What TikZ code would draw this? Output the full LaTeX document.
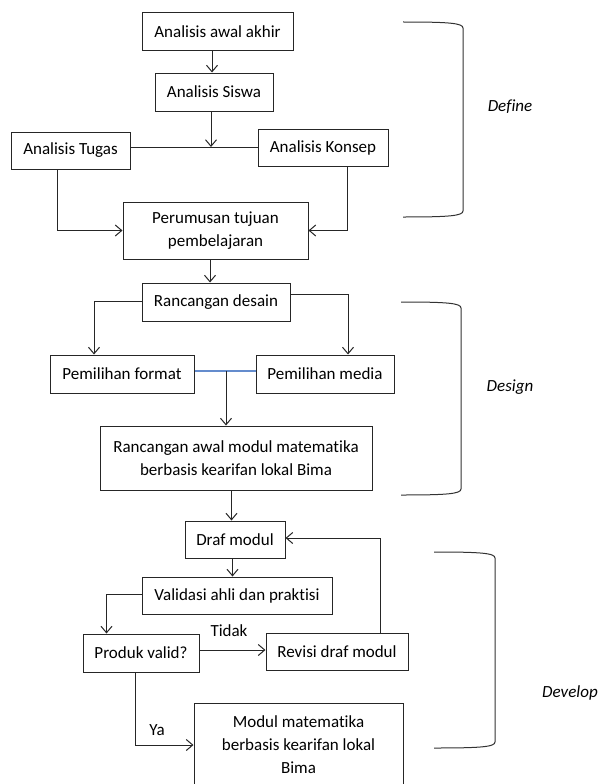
\documentclass[tikz,border=0pt]{standalone}
\usepackage{fontspec}
\setmainfont{Carlito}[Ligatures={NoCommon}]
\usetikzlibrary{arrows.meta}
\definecolor{bl}{RGB}{100,140,205}
\begin{document}
\begin{tikzpicture}[x=1pt,y=-1pt,
  stepbox/.style={draw=black!85, line width=1pt, inner sep=0pt, align=center, font=\fontsize{17}{23}\selectfont},
  ln/.style={draw=black!85, line width=1pt},
  arr/.style={ln, -{Straight Barb[length=6.5pt,width=11pt]}},
  bline/.style={draw=bl, line width=1.1pt},
  lbl/.style={inner sep=0pt, font=\fontsize{17}{23}\selectfont},
  phase/.style={inner sep=0pt, font=\fontsize{17}{23}\selectfont\itshape},
  brk/.style={draw=black!80, line width=1pt}]
\useasboundingbox (0,0) rectangle (600,784);
\clip (0,0) rectangle (600,784);
\fill[white] (0,0) rectangle (600,784);
% nodes
\node[stepbox, minimum width=151pt, minimum height=38pt] (a1) at (217.5,32) {Analisis awal akhir};
\node[stepbox, minimum width=118pt, minimum height=38pt] (a2) at (214,92) {Analisis Siswa};
\node[stepbox, minimum width=119pt, minimum height=37pt] (tug) at (70.5,150.5) {Analisis Tugas};
\node[stepbox, minimum width=130pt, minimum height=37pt] (kon) at (323,147.5) {Analisis Konsep};
\node[stepbox, minimum width=185pt, minimum height=57pt] (per) at (215.5,230.5) {Perumusan tujuan\\pembelajaran};
\node[stepbox, minimum width=148pt, minimum height=38pt] (rd) at (216,302) {Rancangan desain};
\node[stepbox, minimum width=144pt, minimum height=38pt] (pf) at (122,374) {Pemilihan format};
\node[stepbox, minimum width=138pt, minimum height=38pt] (pm) at (325,374) {Pemilihan media};
\node[stepbox, minimum width=272pt, minimum height=64pt] (ra) at (236,458) {Rancangan awal modul matematika\\berbasis kearifan lokal Bima};
\node[stepbox, minimum width=100pt, minimum height=37pt] (dm) at (235,539.5) {Draf modul};
\node[stepbox, minimum width=190pt, minimum height=37pt] (val) at (237,595.5) {Validasi ahli dan praktisi};
\node[stepbox, minimum width=116pt, minimum height=38pt] (pv) at (141,653) {Produk valid?};
\node[stepbox, minimum width=142pt, minimum height=37pt] (rev) at (337,651.5) {Revisi draf modul};
\node[stepbox, minimum width=209pt, minimum height=84pt] (mod) at (298.5,745) {Modul matematika\\berbasis kearifan lokal\\Bima};
\node[lbl] (tidak) at (229,631) {Tidak};
\node[lbl] (ya) at (157,730) {Ya};
\node[phase] (define) at (510,107) {Define};
\node[phase] (design) at (510,387) {Design};
\node[phase] (develop) at (570,693) {Develop};
% junctions
\coordinate (j1) at (211,147);
\coordinate (j2) at (226,371);
% connectors
\draw[arr] ([xshift=-5.5pt]a1.south) -- ([xshift=-5.5pt]a1.south |- a2.north);
\draw[ln] (tug.east |- j1) -- (kon.west |- j1);
\draw[arr] (a2.south -| j1) -- (j1);
\draw[arr] ([xshift=-13.5pt]tug.south) |- (per.west);
\draw[arr] ([xshift=24pt]kon.south) |- (per.east);
\draw[arr] ([xshift=-5.5pt]per.south) -- ([xshift=-5.5pt]per.south |- rd.north);
\draw[arr] ([yshift=1pt]rd.west) -| ([xshift=-28pt]pf.north);
\draw[arr] ([yshift=8pt]rd.east) -| ([xshift=23pt]pm.north);
\draw[bline] (pf.east |- j2) -- (pm.west |- j2);
\draw[arr] (j2) -- (j2 |- ra.north);
\draw[arr] ([xshift=-4.5pt]ra.south) -- ([xshift=-4.5pt]ra.south |- dm.north);
\draw[arr] ([xshift=-2.5pt]dm.south) -- ([xshift=-2.5pt]dm.south |- val.north);
\draw[arr] ([yshift=1.5pt]val.west) -| ([xshift=-34.5pt]pv.north);
\draw[arr] ([yshift=3pt]pv.east) -- ([yshift=3pt]pv.east -| rev.west);
\draw[arr] ([xshift=43.5pt]rev.north) |- ([yshift=1.5pt]dm.east);
\draw[arr] ([xshift=-6pt]pv.south) |- (mod.west);
% brackets
\draw[brk] (403,22) .. controls (448,22) and (463,23) .. (463,28) -- (463,211) .. controls (463,216) and (448,217) .. (403,217);
\draw[brk] (401,302) .. controls (446,302) and (461,303) .. (461,308) -- (461,489) .. controls (461,494) and (446,495) .. (401,495);
\draw[brk] (434,552) .. controls (480,552) and (495,553) .. (495,558) -- (495,742) .. controls (495,747) and (480,748) .. (434,748);
\end{tikzpicture}
\end{document}
